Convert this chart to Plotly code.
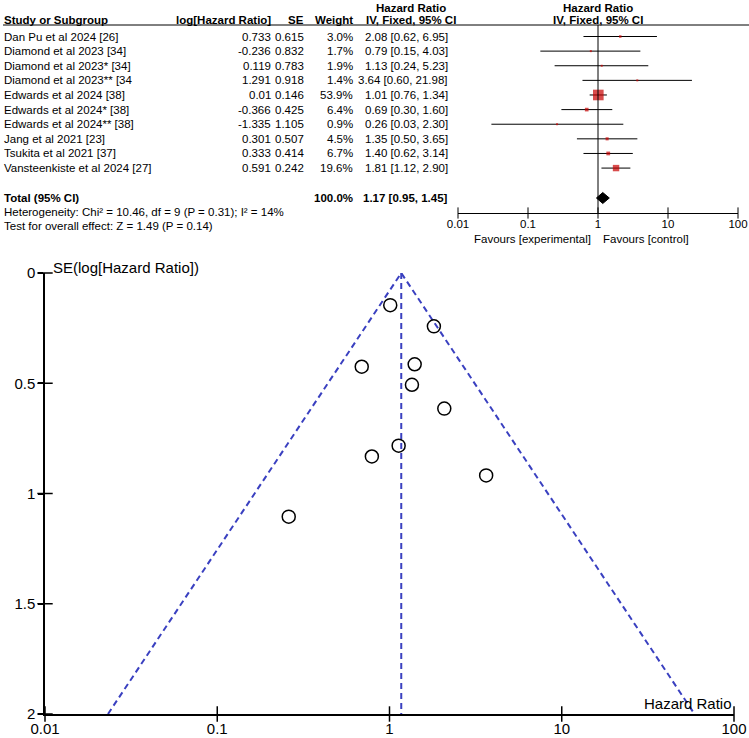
import math
import plotly.graph_objects as go

# ---------------- data ----------------
studies = ["Dan Pu et al 2024 [26]", "Diamond et al 2023 [34]", "Diamond et al 2023* [34]",
           "Diamond et al 2023** [34", "Edwards et al 2024 [38]", "Edwards et al 2024* [38]",
           "Edwards et al 2024** [38]", "Jang et al 2021 [23]", "Tsukita et al 2021 [37]",
           "Vansteenkiste et al 2024 [27]"]
log_hr = [0.733, -0.236, 0.119, 1.291, 0.01, -0.366, -1.335, 0.301, 0.333, 0.591]
se = [0.615, 0.832, 0.783, 0.918, 0.146, 0.425, 1.105, 0.507, 0.414, 0.242]
weights = [3.0, 1.7, 1.9, 1.4, 53.9, 6.4, 0.9, 4.5, 6.7, 19.6]
hr = [2.08, 0.79, 1.13, 3.64, 1.01, 0.69, 0.26, 1.35, 1.40, 1.81]
ci_lo = [0.62, 0.15, 0.24, 0.60, 0.76, 0.30, 0.03, 0.50, 0.62, 1.12]
ci_hi = [6.95, 4.03, 5.23, 21.98, 1.34, 1.60, 2.30, 3.65, 3.14, 2.90]
total_hr, total_lo, total_hi = 1.17, 0.95, 1.45
total_weight = 100.0
heterogeneity = "Heterogeneity: Chi² = 10.46, df = 9 (P = 0.31); I² = 14%"
overall = "Test for overall effect: Z = 1.49 (P = 0.14)"
hr_ticks = [0.01, 0.1, 1, 10, 100]
hr_tick_text = ["0.01", "0.1", "1", "10", "100"]
se_ticks = [0, 0.5, 1, 1.5, 2]
se_tick_text = ["0", "0.5", "1", "1.5", "2"]

# ---------------- layout helpers ----------------
W, H = 749, 738
FONT = "Arial, Liberation Sans, sans-serif"
def px(x):
    return x / W
def py(y):
    return 1 - y / H

ROW0, PITCH = 36.5, 14.62
def row_px(i):
    return ROW0 + i * PITCH
def px_row(y):
    return (y - ROW0) / PITCH

TOTAL_Y = 198
TOTAL_ROW = px_row(TOTAL_Y)
F_TOP, F_BOT = 25, 213

fig = go.Figure()
ann = []
def text(x, y, s, anchor="left", bold=False, size=11.5, color="black"):
    ann.append(dict(x=px(x), y=py(y), xref="paper", yref="paper", text=("<b>%s</b>" % s) if bold else s,
                    showarrow=False, xanchor=anchor, yanchor="middle", borderpad=0,
                    font=dict(family=FONT, size=size, color=color)))

# header
text(3, 20, "Study or Subgroup", bold=True)
text(272, 20, "log[Hazard Ratio]", "right", bold=True)
text(305, 20, "SE", "right", bold=True)
text(354, 20, "Weight", "right", bold=True)
text(411, 8, "Hazard Ratio", "center", bold=True)
text(411, 20, "IV, Fixed, 95% CI", "center", bold=True)
text(598, 8, "Hazard Ratio", "center", bold=True)
text(598, 20, "IV, Fixed, 95% CI", "center", bold=True)

for i, name in enumerate(studies):
    y = row_px(i)
    text(3, y, name)
    text(272, y, str(log_hr[i]), "right")
    text(305, y, str(se[i]), "right")
    text(354, y, "%.1f%%" % weights[i], "right")
    text(449, y, "%.2f [%.2f, %.2f]" % (hr[i], ci_lo[i], ci_hi[i]), "right")

text(3, TOTAL_Y, "Total (95% CI)", bold=True)
text(354, TOTAL_Y, "%.1f%%" % total_weight, "right", bold=True)
text(449, TOTAL_Y, "%.2f [%.2f, %.2f]" % (total_hr, total_lo, total_hi), "right", bold=True)
text(3, 212, heterogeneity)
text(3, 226, overall)
text(592, 239, "Favours [experimental]", "right")
text(602, 239, "Favours [control]", "left")

# funnel texts
text(52, 267, "SE(log[Hazard Ratio])", "left", size=15)
text(733, 703, "Hazard Ratio", "right", size=15)

# ---------------- forest plot ----------------
for i in range(len(studies)):
    fig.add_trace(go.Scatter(x=[ci_lo[i], ci_hi[i]], y=[i, i], mode="lines",
                             line=dict(color="black", width=1), xaxis="x", yaxis="y",
                             showlegend=False, hoverinfo="skip"))
fig.add_trace(go.Scatter(x=hr, y=list(range(len(studies))), mode="markers",
                         marker=dict(symbol="square", color="#c80000",
                                     size=[max(2, 1.45 * math.sqrt(w)) for w in weights],
                                     line=dict(width=0)),
                         xaxis="x", yaxis="y", showlegend=False))
h = 5.5 / PITCH
fig.add_trace(go.Scatter(x=[total_lo, total_hr, total_hi, total_hr, total_lo],
                         y=[TOTAL_ROW, TOTAL_ROW - h, TOTAL_ROW, TOTAL_ROW + h, TOTAL_ROW],
                         mode="lines", fill="toself", fillcolor="black",
                         line=dict(color="black", width=1), xaxis="x", yaxis="y", showlegend=False))
# null line
fig.add_trace(go.Scatter(x=[1, 1], y=[px_row(F_TOP), px_row(F_BOT)], mode="lines",
                         line=dict(color="black", width=1), xaxis="x", yaxis="y",
                         showlegend=False, cliponaxis=False))
# crossing ticks forest axis
fig.add_trace(go.Scatter(x=hr_ticks, y=[px_row(F_BOT)] * len(hr_ticks), mode="markers",
                         marker=dict(symbol="line-ns", size=8, line=dict(color="black", width=1)),
                         xaxis="x", yaxis="y", showlegend=False, cliponaxis=False))

# ---------------- funnel plot ----------------
se_max = se_ticks[-1]
lo_end = math.exp(math.log(total_hr) - 1.96 * se_max)
hi_end = math.exp(math.log(total_hr) + 1.96 * se_max)
dash_style = dict(color="#3a40c0", width=2, dash="6px,4px")
fig.add_trace(go.Scatter(x=[lo_end, total_hr, hi_end], y=[se_max, 0, se_max], mode="lines",
                         line=dash_style, xaxis="x2", yaxis="y2", showlegend=False))
fig.add_trace(go.Scatter(x=[total_hr, total_hr], y=[0, se_max], mode="lines",
                         line=dash_style, xaxis="x2", yaxis="y2", showlegend=False))
fig.add_trace(go.Scatter(x=hr, y=se, mode="markers",
                         marker=dict(symbol="circle-open", size=13, color="black",
                                     line=dict(color="black", width=1.5)),
                         xaxis="x2", yaxis="y2", showlegend=False, cliponaxis=False))
# crossing ticks funnel axes
fig.add_trace(go.Scatter(x=[hr_ticks[0]] * len(se_ticks), y=se_ticks, mode="markers",
                         marker=dict(symbol="line-ew", size=11, line=dict(color="black", width=1.5)),
                         xaxis="x2", yaxis="y2", showlegend=False, cliponaxis=False))
fig.add_trace(go.Scatter(x=hr_ticks, y=[se_max] * len(hr_ticks), mode="markers",
                         marker=dict(symbol="line-ns", size=11, line=dict(color="black", width=1.5)),
                         xaxis="x2", yaxis="y2", showlegend=False, cliponaxis=False))

shapes = [dict(type="line", xref="paper", yref="paper", x0=px(3), x1=1.0, y0=py(F_TOP), y1=py(F_TOP),
               line=dict(color="black", width=1))]

fig.update_layout(
    width=W, height=H, margin=dict(l=0, r=0, t=0, b=0, pad=0, autoexpand=False),
    paper_bgcolor="white", plot_bgcolor="white",
    annotations=ann, shapes=shapes,
    xaxis=dict(type="log", range=[-2, 2], domain=[px(458), px(738)], anchor="y", automargin=False,
               showgrid=False, zeroline=False, showline=True, linecolor="black", linewidth=1,
               tickvals=hr_ticks, ticktext=hr_tick_text, ticks="",
               tickfont=dict(family=FONT, size=11.5, color="black")),
    yaxis=dict(range=[px_row(F_BOT), px_row(F_TOP)], domain=[py(F_BOT), py(F_TOP)], anchor="x",
               visible=False, showgrid=False, zeroline=False, automargin=False),
    xaxis2=dict(type="log", range=[-2, 2], domain=[px(45), px(734)], anchor="y2", automargin=False,
                showgrid=False, zeroline=False, showline=True, linecolor="black", linewidth=1.5,
                tickvals=hr_ticks, ticktext=hr_tick_text, ticks="",
                tickfont=dict(family=FONT, size=15, color="black")),
    yaxis2=dict(range=[2, 0], domain=[py(714), py(273)], anchor="x2", automargin=False,
                showgrid=False, zeroline=False, showline=True, linecolor="black", linewidth=1.5,
                tickvals=se_ticks, ticktext=se_tick_text, ticks="outside", ticklen=5,
                tickcolor="black", tickwidth=1.5,
                tickfont=dict(family=FONT, size=15, color="black")),
)

fig.write_html("out.html")
